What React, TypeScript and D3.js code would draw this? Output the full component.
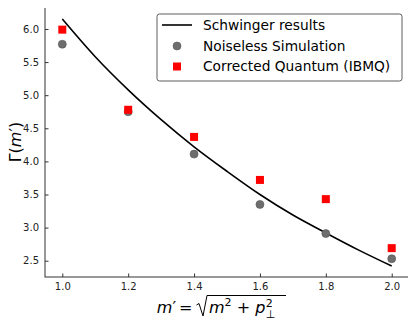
import { useEffect, useRef } from 'react'
import * as d3 from 'd3'

// Schwinger curve at 0.1 steps
const curveX = [1.0, 1.1, 1.2, 1.3, 1.4, 1.5, 1.6, 1.7, 1.8, 1.9, 2.0]
const curveY = [6.15, 5.58, 5.08, 4.63, 4.22, 3.85, 3.5, 3.19, 2.92, 2.66, 2.42]

const mPrime = [1.0, 1.2, 1.4, 1.6, 1.8, 2.0]
const noiseless = [5.77, 4.75, 4.11, 3.35, 2.91, 2.53]
const corrected = [5.99, 4.78, 4.37, 3.72, 3.43, 2.69]

const xTicks = [1.0, 1.2, 1.4, 1.6, 1.8, 2.0]
const yTicks = [2.5, 3.0, 3.5, 4.0, 4.5, 5.0, 5.5, 6.0]

const legendLabels = ['Schwinger results', 'Noiseless Simulation', 'Corrected Quantum (IBMQ)']

const W = 416, H = 327
const M = { top: 7, right: 7, bottom: 50, left: 45 }
const FONT = 'DejaVu Sans, sans-serif'

export default function App() {
  const ref = useRef<SVGSVGElement>(null)

  useEffect(() => {
    const svg = d3.select(ref.current)
    svg.selectAll('*').remove()
    const iw = W - M.left - M.right
    const ih = H - M.top - M.bottom
    const x = d3.scaleLinear().domain([0.9475, 2.0525]).range([0, iw])
    const y = d3.scaleLinear().domain([2.254, 6.332]).range([ih, 0])
    const g = svg.append('g').attr('transform', `translate(${M.left},${M.top})`)

    // axes, ticks pointing inward
    g.append('g').attr('transform', `translate(0,${ih})`)
      .call(d3.axisBottom(x).tickValues(xTicks).tickSize(-3.5).tickPadding(6).tickFormat(d3.format('.1f')))
      .call(a => {
        a.select('.domain').remove()
        a.selectAll('.tick line').attr('stroke', '#333')
        a.selectAll('.tick text').attr('font-size', 10).attr('font-family', FONT).attr('fill', '#222')
      })
    g.append('g')
      .call(d3.axisLeft(y).tickValues(yTicks).tickSize(-3.5).tickPadding(6).tickFormat(d3.format('.1f')))
      .call(a => {
        a.select('.domain').remove()
        a.selectAll('.tick line').attr('stroke', '#333')
        a.selectAll('.tick text').attr('font-size', 10).attr('font-family', FONT).attr('fill', '#222')
      })
    g.append('rect').attr('width', iw).attr('height', ih)
      .attr('fill', 'none').attr('stroke', '#333').attr('stroke-width', 1)

    // Schwinger curve
    const line = d3.line<number>().x((_, i) => x(curveX[i])).y(d => y(d)).curve(d3.curveMonotoneX)
    g.append('path').datum(curveY).attr('d', line)
      .attr('fill', 'none').attr('stroke', '#000').attr('stroke-width', 1.6)

    // noiseless circles
    g.selectAll(null).data(noiseless).join('circle')
      .attr('cx', (_, i) => x(mPrime[i])).attr('cy', d => y(d)).attr('r', 4)
      .attr('fill', '#6e6e6e').attr('stroke', '#555').attr('stroke-width', 0.6)

    // corrected squares
    const s = 8
    g.selectAll(null).data(corrected).join('rect')
      .attr('x', (_, i) => x(mPrime[i]) - s / 2).attr('y', d => y(d) - s / 2)
      .attr('width', s).attr('height', s).attr('fill', '#ff0000')

    // legend
    const lg = svg.append('g').attr('transform', 'translate(157,14)')
    lg.append('rect').attr('width', 245).attr('height', 67).attr('rx', 2.5)
      .attr('fill', '#fff').attr('fill-opacity', 0.8).attr('stroke', '#333').attr('stroke-width', 0.8)
    const rows = [11, 32, 52.5]
    lg.append('line').attr('x1', 5).attr('x2', 35).attr('y1', rows[0]).attr('y2', rows[0])
      .attr('stroke', '#000').attr('stroke-width', 1.6)
    lg.append('circle').attr('cx', 20).attr('cy', rows[1]).attr('r', 4)
      .attr('fill', '#6e6e6e').attr('stroke', '#555').attr('stroke-width', 0.6)
    lg.append('rect').attr('x', 20 - s / 2).attr('y', rows[2] - s / 2).attr('width', s).attr('height', s).attr('fill', '#ff0000')
    lg.selectAll(null).data(legendLabels).join('text')
      .attr('x', 46).attr('y', (_, i) => rows[i]).attr('dy', '0.36em')
      .attr('font-size', 13.75).attr('font-family', FONT).attr('fill', '#000')
      .text(d => d)

    // y label  Γ(m′)
    const yl = svg.append('text').attr('transform', `translate(21,${M.top + ih / 2}) rotate(-90)`)
      .attr('text-anchor', 'middle').attr('font-size', 16).attr('font-family', FONT)
    yl.append('tspan').text('Γ(')
    yl.append('tspan').attr('font-style', 'italic').text('m')
    yl.append('tspan').text('′)')

    // x label  m′ = √(m² + p⊥²)
    const base = 313
    const xl1 = svg.append('text').attr('x', 192.5).attr('y', base).attr('text-anchor', 'end')
      .attr('font-size', 16).attr('font-family', FONT)
    xl1.append('tspan').attr('font-style', 'italic').text('m')
    xl1.append('tspan').text('′')
    xl1.append('tspan').attr('dx', 3).text('=')

    svg.append('path')
      .attr('d', 'M196.5,305 L199,303.5 L203,316 L207,295.5 L286,295.5')
      .attr('fill', 'none').attr('stroke', '#000').attr('stroke-width', 1)

    const xl2 = svg.append('text').attr('x', 209).attr('y', base)
      .attr('font-size', 16).attr('font-family', FONT)
    xl2.append('tspan').attr('font-style', 'italic').text('m')
    xl2.append('tspan').attr('font-size', 11).attr('dy', -7).text('2')
    xl2.append('tspan').attr('dy', 7).text(' + ')
    xl2.append('tspan').attr('font-style', 'italic').text('p')
    const bb = (xl2.node() as SVGTextElement).getBBox()
    const rx = bb.x + bb.width + 0.5
    svg.append('text').attr('x', rx).attr('y', base - 6.5)
      .attr('font-size', 11).attr('font-family', FONT).text('2')
    svg.append('text').attr('x', rx).attr('y', base + 5)
      .attr('font-size', 11).attr('font-family', FONT).text('⊥')
  }, [])

  return (
    <div style={{ width: W, height: H, margin: -8 }}>
      <svg ref={ref} width={W} height={H} style={{ display: 'block', background: '#fff' }} />
    </div>
  )
}
